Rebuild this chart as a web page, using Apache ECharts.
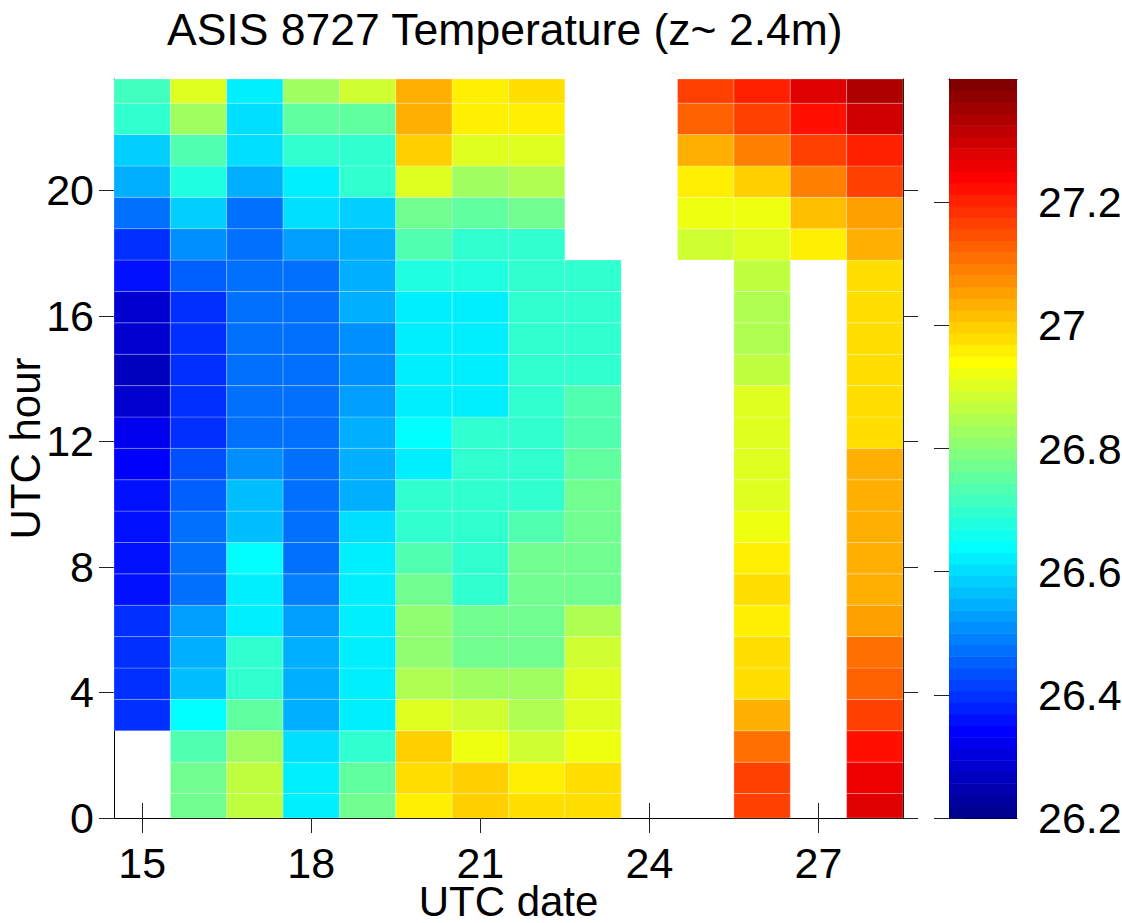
<!DOCTYPE html>
<html>
<head>
<meta charset="utf-8">
<title>ASIS 8727 Temperature</title>
<script src="https://cdn.jsdelivr.net/npm/echarts@6/dist/echarts.min.js"></script>
<style>
  html, body { margin: 0; padding: 0; background: #fff; }
  #main { width: 1122px; height: 923px; }
</style>
</head>
<body>
<div id="main"></div>
<script>
// UTC date (columns) and UTC hour (rows)
const days = [15, 16, 17, 18, 19, 20, 21, 22, 23, 24, 25, 26, 27, 28];
const hours = [0, 1, 2, 3, 4, 5, 6, 7, 8, 9, 10, 11, 12, 13, 14, 15, 16, 17, 18, 19, 20, 21, 22, 23];

// temperature per day, hour 0 -> 23 (null = no data)
const day15 = [null, null, null, 26.40, 26.40, 26.40, 26.39, 26.35, 26.35, 26.35, 26.35, 26.34, 26.33, 26.28, 26.26, 26.28, 26.29, 26.35, 26.39, 26.48, 26.55, 26.59, 26.69, 26.72];
const day16 = [26.78, 26.78, 26.74, 26.65, 26.57, 26.54, 26.52, 26.47, 26.48, 26.48, 26.46, 26.43, 26.40, 26.40, 26.40, 26.40, 26.40, 26.46, 26.50, 26.59, 26.67, 26.74, 26.82, 26.90];
const day17 = [26.86, 26.86, 26.82, 26.76, 26.70, 26.69, 26.63, 26.63, 26.65, 26.56, 26.56, 26.51, 26.47, 26.47, 26.47, 26.47, 26.47, 26.47, 26.48, 26.48, 26.55, 26.61, 26.61, 26.62];
const day18 = [26.63, 26.63, 26.60, 26.54, 26.55, 26.54, 26.52, 26.49, 26.47, 26.47, 26.47, 26.47, 26.47, 26.47, 26.47, 26.47, 26.47, 26.47, 26.53, 26.60, 26.63, 26.69, 26.76, 26.82];
const day19 = [26.78, 26.76, 26.70, 26.63, 26.63, 26.63, 26.63, 26.63, 26.63, 26.61, 26.54, 26.54, 26.54, 26.52, 26.51, 26.50, 26.54, 26.55, 26.54, 26.59, 26.69, 26.70, 26.76, 26.88];
const day20 = [26.95, 26.97, 26.99, 26.91, 26.84, 26.80, 26.80, 26.78, 26.74, 26.70, 26.69, 26.63, 26.65, 26.63, 26.63, 26.63, 26.63, 26.67, 26.73, 26.78, 26.90, 26.99, 27.03, 27.04];
const day21 = [27.00, 26.99, 26.93, 26.88, 26.82, 26.78, 26.78, 26.69, 26.69, 26.69, 26.69, 26.69, 26.69, 26.63, 26.63, 26.63, 26.63, 26.67, 26.70, 26.76, 26.82, 26.90, 26.95, 26.95];
const day22 = [26.97, 26.95, 26.88, 26.84, 26.82, 26.78, 26.78, 26.78, 26.78, 26.74, 26.69, 26.69, 26.69, 26.69, 26.69, 26.69, 26.69, 26.69, 26.70, 26.78, 26.84, 26.91, 26.96, 26.98];
const day23 = [26.97, 26.97, 26.93, 26.91, 26.91, 26.88, 26.84, 26.78, 26.78, 26.78, 26.78, 26.76, 26.74, 26.73, 26.69, 26.69, 26.69, 26.69, null, null, null, null, null, null];
const day24 = [null, null, null, null, null, null, null, null, null, null, null, null, null, null, null, null, null, null, null, null, null, null, null, null];
const day25 = [null, null, null, null, null, null, null, null, null, null, null, null, null, null, null, null, null, null, 26.88, 26.93, 26.95, 27.04, 27.12, 27.16];
const day26 = [27.17, 27.17, 27.10, 27.04, 26.97, 26.97, 26.95, 26.97, 26.95, 26.93, 26.91, 26.91, 26.91, 26.90, 26.86, 26.84, 26.84, 26.86, 26.91, 26.93, 26.99, 27.09, 27.17, 27.20];
const day27 = [null, null, null, null, null, null, null, null, null, null, null, null, null, null, null, null, null, null, 26.95, 27.01, 27.09, 27.17, 27.23, 27.27];
const day28 = [27.27, 27.25, 27.23, 27.17, 27.12, 27.10, 27.06, 27.04, 27.04, 27.04, 27.04, 27.03, 26.97, 26.97, 26.97, 26.97, 26.97, 26.97, 27.03, 27.06, 27.16, 27.21, 27.30, 27.33];

// tick labels
const xTicks = [15, 18, 21, 24, 27];
const yTicks = [0, 4, 8, 12, 16, 20];
const cbTicks = [26.2, 26.4, 26.6, 26.8, 27, 27.2];

// color limits
const cMin = 26.2;
const cMax = 27.4;

const tempByDay = [day15, day16, day17, day18, day19, day20, day21, day22, day23, day24, day25, day26, day27, day28];

// axis limits and cell placement
const xMin = 14.5, xMax = 28.5;
const yMin = 0, yMax = 23.55;
const hourShift = 0.28; // samples sit a bit after the full hour

// matlab style jet(m)
function jetColors(m) {
  const n = Math.ceil(m / 4);
  const u = [];
  for (let i = 1; i <= n; i++) u.push(i / n);
  for (let i = 1; i < n; i++) u.push(1);
  for (let i = n; i >= 1; i--) u.push(i / n);
  const g0 = Math.ceil(n / 2) - (m % 4 === 1 ? 1 : 0);
  const J = [];
  for (let i = 0; i < m; i++) J.push([0, 0, 0]);
  u.forEach((val, k) => {
    const g = g0 + k + 1;
    const r = g + n;
    const b = g - n;
    if (g >= 1 && g <= m) J[g - 1][1] = val;
    if (r >= 1 && r <= m) J[r - 1][0] = val;
    if (b >= 1 && b <= m) J[b - 1][2] = val;
  });
  return J.map((c) => "rgb(" + c.map((x) => Math.round(x * 255)).join(",") + ")");
}
const jet = jetColors(64);

function colorFor(v) {
  let idx = Math.floor(((v - cMin) / (cMax - cMin)) * jet.length);
  idx = Math.max(0, Math.min(jet.length - 1, idx));
  return jet[idx];
}

const cells = [];
days.forEach((d, i) => {
  tempByDay[i].forEach((v, h) => {
    if (v !== null) cells.push([d, hours[h], v]);
  });
});
const cbLevels = jet.map((c, i) => [i]);

const fontFamily = "Liberation Sans, Arial, Helvetica, sans-serif";
const tickStyle = { show: true, length: 15, lineStyle: { color: "#222", width: 1 } };
const lineStyle = { show: true, lineStyle: { color: "#000", width: 1 } };

const myChart = echarts.init(document.getElementById("main"), null, { renderer: "svg" });

const option = {
  backgroundColor: "#fff",
  animation: false,
  title: {
    text: "ASIS 8727 Temperature (z~ 2.4m)",
    left: 167,
    top: 7,
    padding: 0,
    textStyle: { fontFamily, fontSize: 44.5, fontWeight: "normal", color: "#000" },
  },
  grid: [
    { left: 114, top: 79, width: 789, height: 739, outerBoundsMode: "none" },
    { left: 949, top: 79, width: 68, height: 739, outerBoundsMode: "none" },
  ],
  xAxis: [
    {
      type: "value",
      gridIndex: 0,
      position: "bottom",
      min: xMin,
      max: xMax,
      name: "UTC date",
      nameLocation: "middle",
      nameGap: 65,
      nameMoveOverlap: false,
      nameTextStyle: { fontFamily, fontSize: 42, lineHeight: 36, color: "#000" },
      axisLine: lineStyle,
      axisTick: Object.assign({ customValues: xTicks }, tickStyle),
      axisLabel: { customValues: xTicks, margin: 27, fontFamily, fontSize: 43, lineHeight: 36, color: "#000" },
      splitLine: { show: false },
    },
    {
      type: "value",
      gridIndex: 0,
      position: "top",
      min: xMin,
      max: xMax,
      axisLine: lineStyle,
      axisTick: Object.assign({ customValues: xTicks }, tickStyle),
      axisLabel: { show: false },
      splitLine: { show: false },
    },
    // colorbar frame
    {
      type: "value",
      gridIndex: 1,
      position: "bottom",
      min: 0,
      max: 1,
      axisLine: lineStyle,
      axisTick: { show: false },
      axisLabel: { show: false },
      splitLine: { show: false },
    },
    {
      type: "value",
      gridIndex: 1,
      position: "top",
      min: 0,
      max: 1,
      axisLine: lineStyle,
      axisTick: { show: false },
      axisLabel: { show: false },
      splitLine: { show: false },
    },
  ],
  yAxis: [
    {
      type: "value",
      gridIndex: 0,
      position: "left",
      min: yMin,
      max: yMax,
      name: "UTC hour",
      nameLocation: "middle",
      nameGap: 71,
      nameMoveOverlap: false,
      nameTextStyle: { fontFamily, fontSize: 42, lineHeight: 36, color: "#000" },
      axisLine: lineStyle,
      axisTick: Object.assign({ customValues: yTicks }, tickStyle),
      axisLabel: { customValues: yTicks, margin: 20, fontFamily, fontSize: 43, color: "#000" },
      splitLine: { show: false },
    },
    {
      type: "value",
      gridIndex: 0,
      position: "right",
      min: yMin,
      max: yMax,
      axisLine: lineStyle,
      axisTick: Object.assign({ customValues: yTicks }, tickStyle),
      axisLabel: { show: false },
      splitLine: { show: false },
    },
    // colorbar scale
    {
      type: "value",
      gridIndex: 1,
      position: "left",
      min: cMin,
      max: cMax,
      axisLine: lineStyle,
      axisTick: Object.assign({ customValues: cbTicks }, tickStyle),
      axisLabel: { show: false },
      splitLine: { show: false },
    },
    {
      type: "value",
      gridIndex: 1,
      position: "right",
      min: cMin,
      max: cMax,
      axisLine: lineStyle,
      axisTick: Object.assign({ customValues: cbTicks }, tickStyle),
      axisLabel: { customValues: cbTicks, margin: 21, fontFamily, fontSize: 43, color: "#000" },
      splitLine: { show: false },
    },
  ],
  series: [
    {
      type: "custom",
      name: "temperature",
      xAxisIndex: 0,
      yAxisIndex: 0,
      z: 5,
      data: cells,
      renderItem: function (params, api) {
        const d = api.value(0);
        const h = api.value(1);
        const v = api.value(2);
        const lo = Math.max(yMin, h - 1 + hourShift + 0.5);
        const hi = Math.min(yMax, h + hourShift + 0.5);
        const p0 = api.coord([d - 0.5, hi]);
        const p1 = api.coord([d + 0.5, lo]);
        return {
          type: "rect",
          shape: { x: p0[0], y: p0[1], width: p1[0] - p0[0], height: p1[1] - p0[1] },
          style: { fill: colorFor(v), stroke: "rgba(255,255,255,0.3)", lineWidth: 0.8 },
        };
      },
    },
    {
      type: "custom",
      name: "colorbar",
      xAxisIndex: 2,
      yAxisIndex: 2,
      z: 5,
      data: cbLevels,
      renderItem: function (params, api) {
        const i = api.value(0);
        const step = (cMax - cMin) / jet.length;
        const p0 = api.coord([0, cMin + (i + 1) * step]);
        const p1 = api.coord([1, cMin + i * step]);
        return {
          type: "rect",
          shape: { x: p0[0], y: p0[1], width: p1[0] - p0[0], height: p1[1] - p0[1] + 0.5 },
          style: { fill: jet[i] },
        };
      },
    },
  ],
};

myChart.setOption(option);
</script>
</body>
</html>
